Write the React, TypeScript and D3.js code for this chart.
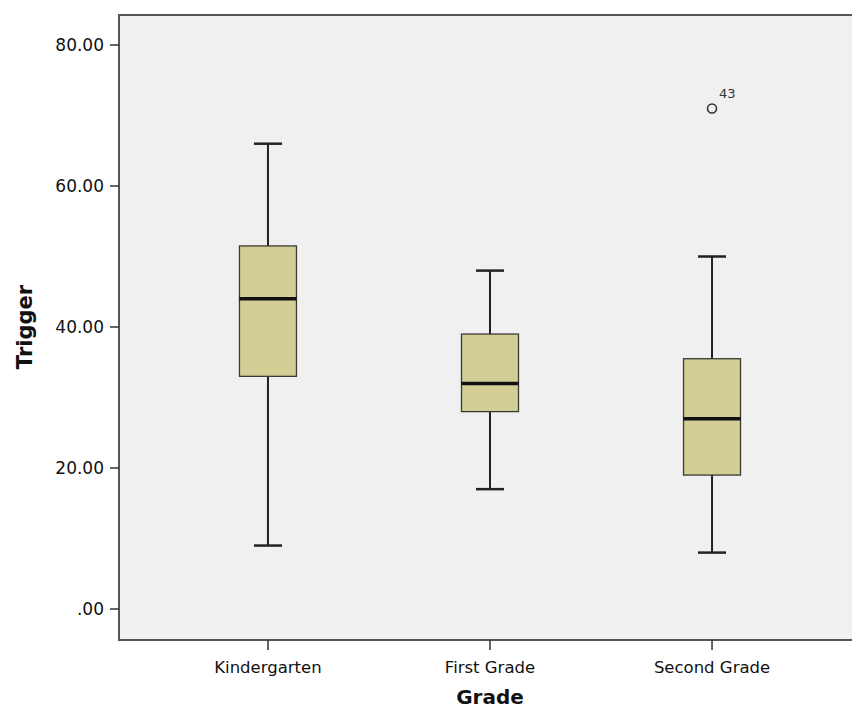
import React, { useEffect, useRef } from 'react';
import * as d3 from 'd3';

const grades = ['Kindergarten', 'First Grade', 'Second Grade'];
const whiskerLow = [9, 17, 8];
const q1 = [33, 28, 19];
const medians = [44, 32, 27];
const q3 = [51.5, 39, 35.5];
const whiskerHigh = [66, 48, 50];
const outliers = [{ grade: 'Second Grade', value: 71, label: '43' }];
const yTicks = [0, 20, 40, 60, 80];

const App = () => {
  const ref = useRef<SVGSVGElement>(null);

  useEffect(() => {
    const svg = d3.select(ref.current);
    svg.selectAll('*').remove();

    const left = 119;
    const right = 861;
    const top = 15;
    const bottom = 640;
    const font = '"DejaVu Sans", sans-serif';

    const x = d3.scalePoint().domain(grades).range([left, right]).padding(0.671);
    const y = d3.scaleLinear().domain([0, 80]).range([609, 45]);

    svg
      .append('rect')
      .attr('x', left)
      .attr('y', top)
      .attr('width', right - left)
      .attr('height', bottom - top)
      .attr('fill', '#f0f0f0')
      .attr('stroke', '#555')
      .attr('stroke-width', 2);

    // y axis ticks + labels
    const yAxis = svg.append('g');
    yAxis
      .selectAll('line')
      .data(yTicks)
      .enter()
      .append('line')
      .attr('x1', left - 9)
      .attr('x2', left)
      .attr('y1', (d) => y(d))
      .attr('y2', (d) => y(d))
      .attr('stroke', '#333')
      .attr('stroke-width', 1.5);
    yAxis
      .selectAll('text')
      .data(yTicks)
      .enter()
      .append('text')
      .attr('x', left - 15)
      .attr('y', (d) => y(d))
      .attr('dy', '0.36em')
      .attr('text-anchor', 'end')
      .attr('font-family', font)
      .attr('font-size', 17)
      .attr('fill', '#111')
      .text((d) => (d === 0 ? '.00' : d3.format('.2f')(d)));

    // x axis ticks + labels
    const xAxis = svg.append('g');
    xAxis
      .selectAll('line')
      .data(grades)
      .enter()
      .append('line')
      .attr('x1', (d) => x(d)!)
      .attr('x2', (d) => x(d)!)
      .attr('y1', bottom)
      .attr('y2', bottom + 10)
      .attr('stroke', '#333')
      .attr('stroke-width', 1.5);
    xAxis
      .selectAll('text')
      .data(grades)
      .enter()
      .append('text')
      .attr('x', (d) => x(d)!)
      .attr('y', 673)
      .attr('text-anchor', 'middle')
      .attr('font-family', font)
      .attr('font-size', 16.5)
      .attr('fill', '#111')
      .text((d) => d);

    // axis titles
    svg
      .append('text')
      .attr('x', x('First Grade')!)
      .attr('y', 704)
      .attr('text-anchor', 'middle')
      .attr('font-family', font)
      .attr('font-weight', 'bold')
      .attr('font-size', 20)
      .attr('fill', '#111')
      .text('Grade');
    svg
      .append('text')
      .attr('transform', `translate(32,${y(40)}) rotate(-90)`)
      .attr('text-anchor', 'middle')
      .attr('font-family', font)
      .attr('font-weight', 'bold')
      .attr('font-size', 21)
      .attr('fill', '#111')
      .text('Trigger');

    // boxes
    const boxW = 57;
    const capW = 28;
    const boxes = svg
      .selectAll('.box')
      .data(grades)
      .enter()
      .append('g')
      .attr('class', 'box');

    boxes
      .append('line')
      .attr('x1', (d) => x(d)!)
      .attr('x2', (d) => x(d)!)
      .attr('y1', (d, i) => y(whiskerHigh[i]))
      .attr('y2', (d, i) => y(whiskerLow[i]))
      .attr('stroke', '#222')
      .attr('stroke-width', 2);
    boxes
      .selectAll('.cap')
      .data((d, i) => [
        { g: d, v: whiskerHigh[i] },
        { g: d, v: whiskerLow[i] },
      ])
      .enter()
      .append('line')
      .attr('x1', (c) => x(c.g)! - capW / 2)
      .attr('x2', (c) => x(c.g)! + capW / 2)
      .attr('y1', (c) => y(c.v))
      .attr('y2', (c) => y(c.v))
      .attr('stroke', '#222')
      .attr('stroke-width', 2.5);
    boxes
      .append('rect')
      .attr('x', (d) => x(d)! - boxW / 2)
      .attr('y', (d, i) => y(q3[i]))
      .attr('width', boxW)
      .attr('height', (d, i) => y(q1[i]) - y(q3[i]))
      .attr('fill', '#d3cd96')
      .attr('stroke', '#3a3a30')
      .attr('stroke-width', 1.3);
    boxes
      .append('line')
      .attr('x1', (d) => x(d)! - boxW / 2)
      .attr('x2', (d) => x(d)! + boxW / 2)
      .attr('y1', (d, i) => y(medians[i]))
      .attr('y2', (d, i) => y(medians[i]))
      .attr('stroke', '#111')
      .attr('stroke-width', 3.5);

    // outliers
    const out = svg.selectAll('.outlier').data(outliers).enter().append('g');
    out
      .append('circle')
      .attr('cx', (d) => x(d.grade)!)
      .attr('cy', (d) => y(d.value))
      .attr('r', 4.5)
      .attr('fill', 'none')
      .attr('stroke', '#333')
      .attr('stroke-width', 1.6);
    out
      .append('text')
      .attr('x', (d) => x(d.grade)! + 7)
      .attr('y', (d) => y(d.value) - 10)
      .attr('font-family', font)
      .attr('font-size', 13)
      .attr('fill', '#333')
      .text((d) => d.label);
  }, []);

  return (
    <svg
      ref={ref}
      width={852}
      height={709}
      style={{ position: 'absolute', left: 0, top: 0, background: '#fff' }}
    />
  );
};

export default App;
